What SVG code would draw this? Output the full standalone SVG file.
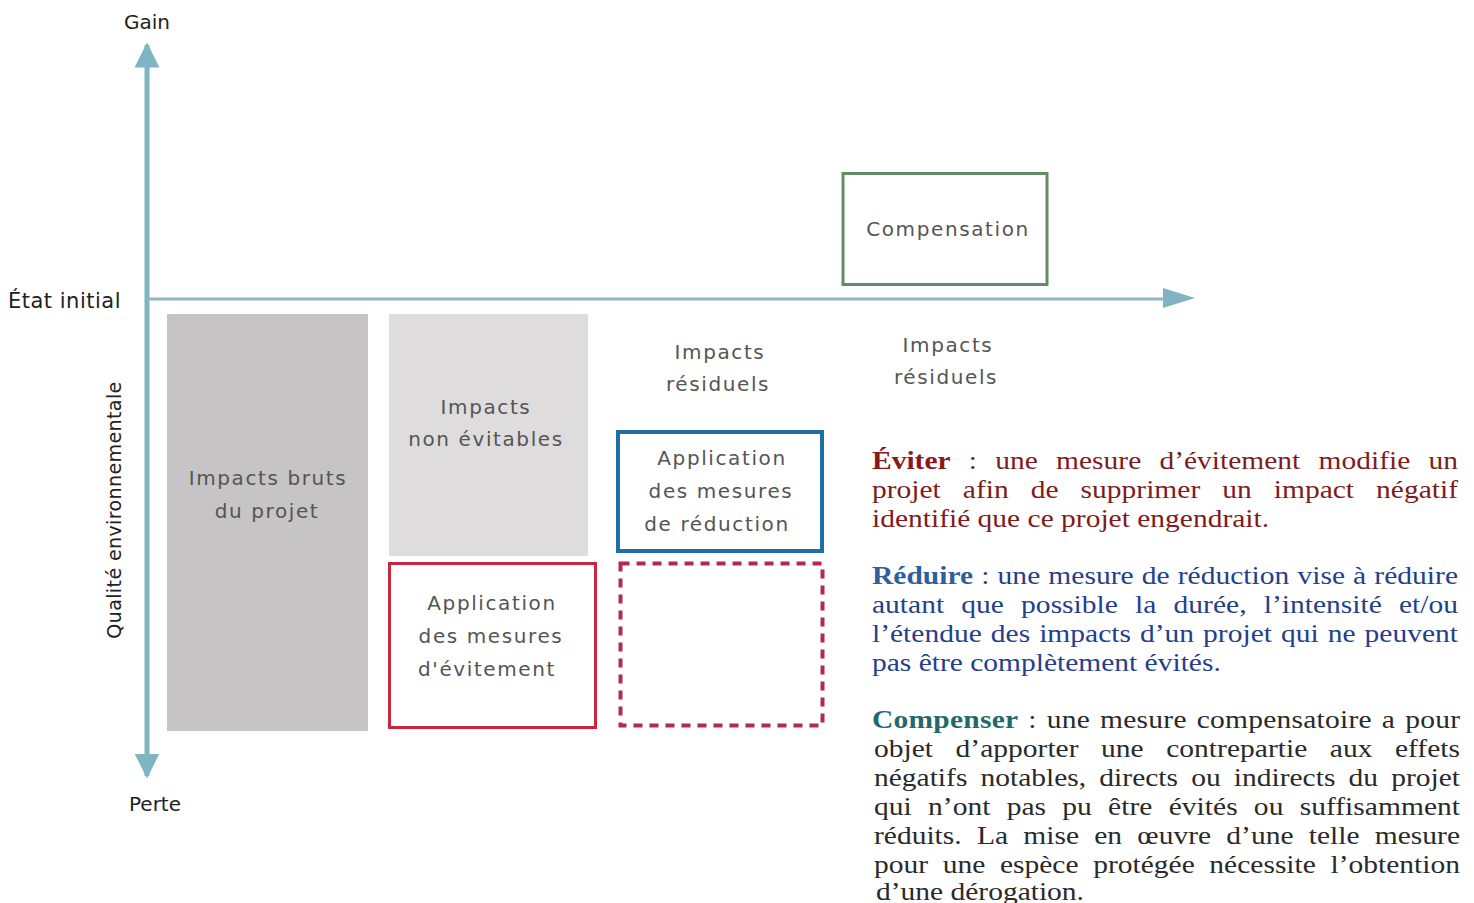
<svg xmlns="http://www.w3.org/2000/svg" width="1474" height="903" viewBox="0 0 1474 903">
<style>
.ax{font-family:"DejaVu Sans",sans-serif;fill:#222;}
.bx{font-family:"DejaVu Sans",sans-serif;fill:#555;font-size:20px;text-anchor:middle;letter-spacing:1.6px;}
.tx{font-family:"Liberation Serif","Times New Roman",serif;font-size:25px;}
.red{fill:#7e1c1c;}
.blu{fill:#24408c;}
.blk{fill:#2a2a2a;}
</style>
<defs>
<marker id="ah" viewBox="0 0 10 10" refX="9" refY="5" markerWidth="5" markerHeight="5" orient="auto" markerUnits="strokeWidth">
<path d="M0,0 L10,5 L0,10 z" fill="#7fb5c2"/>
</marker>
</defs>
<rect width="1474" height="903" fill="#fff"/>
<g id="connectors">
<line x1="147" y1="299" x2="147" y2="45" stroke="#7fb5c2" stroke-width="5" marker-end="url(#ah)"/>
<line x1="147" y1="299" x2="147" y2="776" stroke="#7fb5c2" stroke-width="5" marker-end="url(#ah)"/>
<line x1="147" y1="299" x2="1170" y2="299" stroke="#8fb8bf" stroke-width="3"/>
<path d="M1163,288 L1195,298 L1163,308 Z" fill="#7fb5c2"/>
</g>
<g id="axis-labels">
<text class="ax" x="147" y="29" font-size="20" text-anchor="middle">Gain</text>
<text class="ax" x="8" y="308" font-size="21" letter-spacing="0.5">État initial</text>
<text class="ax" x="155" y="811" font-size="20" text-anchor="middle">Perte</text>
<text class="ax" transform="translate(121,510) rotate(-90)" font-size="19" text-anchor="middle" fill="#333" letter-spacing="0.4">Qualité environnementale</text>
</g>
<g id="impacts-bruts">
<rect x="167" y="314" width="201" height="417" fill="#c6c4c4"/>
<text class="bx" x="268" y="485" font-size="21">Impacts bruts</text>
<text class="bx" x="267" y="518">du projet</text>
</g>
<g id="impacts-non-evitables">
<rect x="389" y="314" width="199" height="242" fill="#dedcdc"/>
<text class="bx" x="486" y="414">Impacts</text>
<text class="bx" x="486" y="446">non évitables</text>
</g>
<g id="evitement">
<rect x="389.5" y="563.5" width="206" height="164" fill="#fff" stroke="#c8283e" stroke-width="3"/>
<text class="bx" x="492" y="610" fill="#666">Application</text>
<text class="bx" x="491" y="643" fill="#777">des mesures</text>
<text class="bx" x="487" y="676" fill="#777">d'évitement</text>
</g>
<g id="residuels-1">
<text class="bx" x="720" y="359">Impacts</text>
<text class="bx" x="718" y="391">résiduels</text>
</g>
<g id="reduction">
<rect x="618" y="432" width="204" height="119" fill="#fff" stroke="#1f6ea6" stroke-width="4"/>
<text class="bx" x="722" y="465" fill="#666">Application</text>
<text class="bx" x="721" y="498" fill="#777">des mesures</text>
<text class="bx" x="717" y="531" fill="#777">de réduction</text>
</g>
<g id="residuel-dashed">
<rect x="620.5" y="563.5" width="202" height="162" fill="none" stroke="#b42a4c" stroke-width="4" stroke-dasharray="9,7"/>
</g>
<g id="residuels-2">
<text class="bx" x="948" y="352">Impacts</text>
<text class="bx" x="946" y="384">résiduels</text>
</g>
<g id="compensation">
<rect x="843" y="173.5" width="204" height="111" fill="#fff" stroke="#648c64" stroke-width="3"/>
<text class="bx" x="948" y="236" fill="#777" letter-spacing="2.6">Compensation</text>
</g>
<g id="legend">
<text class="tx red" transform="translate(872,469) scale(1.18,1)" word-spacing="9.2" textLength="496.6" lengthAdjust="spacing"><tspan font-weight="bold" fill="#8a1818">Éviter</tspan> : une mesure d’évitement modifie un</text>
<text class="tx red" transform="translate(872,498) scale(1.18,1)" word-spacing="12.4" textLength="496.6" lengthAdjust="spacing">projet afin de supprimer un impact négatif</text>
<text class="tx red" transform="translate(872,527) scale(1.18,1)">identifié que ce projet engendrait.</text>
<text class="tx blu" transform="translate(872,584) scale(1.18,1)" word-spacing="0.6" textLength="496.6" lengthAdjust="spacing"><tspan font-weight="bold" fill="#2f5f9a">Réduire</tspan> : une mesure de réduction vise à réduire</text>
<text class="tx blu" transform="translate(872,613) scale(1.18,1)" word-spacing="8.3" textLength="496.6" lengthAdjust="spacing">autant que possible la durée, l’intensité et/ou</text>
<text class="tx blu" transform="translate(872,642) scale(1.18,1)" word-spacing="1.4" textLength="496.6" lengthAdjust="spacing">l’étendue des impacts d’un projet qui ne peuvent</text>
<text class="tx blu" transform="translate(872,671) scale(1.18,1)">pas être complètement évités.</text>
<text class="tx blk" transform="translate(872,728) scale(1.18,1)" word-spacing="2" textLength="498.3" lengthAdjust="spacing"><tspan font-weight="bold" fill="#1f6a6a">Compenser</tspan> : une mesure compensatoire a pour</text>
<text class="tx blk" transform="translate(874,757) scale(1.18,1)" word-spacing="12.8" textLength="496.6" lengthAdjust="spacing">objet d’apporter une contrepartie aux effets</text>
<text class="tx blk" transform="translate(874,786) scale(1.18,1)" word-spacing="4.9" textLength="496.6" lengthAdjust="spacing">négatifs notables, directs ou indirects du projet</text>
<text class="tx blk" transform="translate(874,815) scale(1.18,1)" word-spacing="7.5" textLength="496.6" lengthAdjust="spacing">qui n’ont pas pu être évités ou suffisamment</text>
<text class="tx blk" transform="translate(874,844) scale(1.18,1)" word-spacing="6.7" textLength="496.6" lengthAdjust="spacing">réduits. La mise en œuvre d’une telle mesure</text>
<text class="tx blk" transform="translate(874,873) scale(1.18,1)" word-spacing="6.1" textLength="496.6" lengthAdjust="spacing">pour une espèce protégée nécessite l’obtention</text>
<text class="tx blk" transform="translate(876,900) scale(1.18,1)">d’une dérogation.</text>
</g>
</svg>
